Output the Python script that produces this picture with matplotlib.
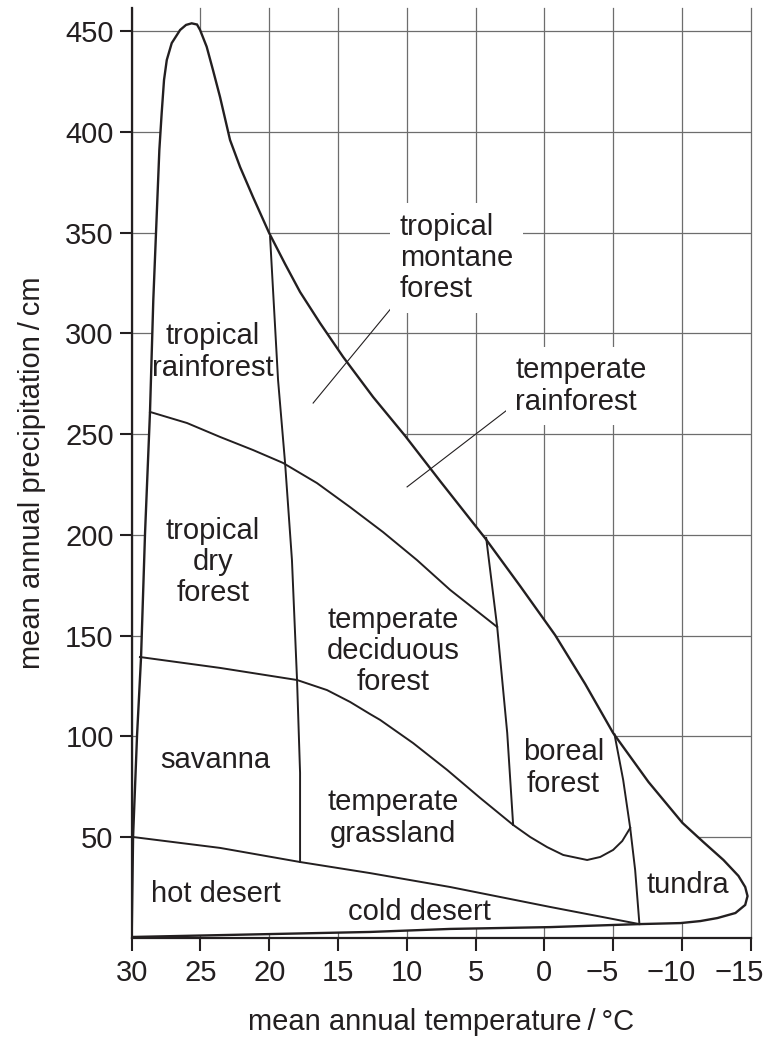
import matplotlib.pyplot as plt
from matplotlib.transforms import ScaledTranslation

plt.rcParams['font.family'] = ['Liberation Sans', 'DejaVu Sans']

# outer boundary of all biomes (mean temperature in C, precipitation in cm)
outer_temp = [30.0, 29.9, 29.61, 29.32, 29.03, 28.67, 28.43, 27.99, 27.82, 27.65,
              27.45, 27.09, 26.48, 26.05, 25.64, 25.25, 25.03, 24.55, 24.09, 23.58,
              22.85, 22.12, 21.18, 20.01, 18.85, 17.76, 16.31, 14.63, 12.45, 10.12,
              7.58, 4.31, 1.76, -0.78, -2.97, -5.0, -7.57, -10.04, -11.56, -13.02,
              -14.11, -14.6, -14.77, -14.6, -13.89, -12.58, -11.34, -9.89, -6.91,
              -0.42, 6.85, 12.67, 30.0]
outer_precip = [0.5, 50.1, 100.7, 139.4, 200.9, 261, 316.5, 391.0, 409.3, 425.7,
                435.6, 444.0, 450.5, 453.0, 453.8, 453.2, 450.5, 442.2, 430.6, 417.3,
                395.9, 382.5, 367.6, 349.8, 334.4, 320.5, 305.1, 288.3, 268.4, 249.1,
                226.7, 198.4, 174.6, 150.3, 126.0, 101.7, 77.4, 57.1, 47.6, 38.7,
                30.8, 25.3, 20.8, 16.4, 12.4, 9.9, 8.4, 7.4, 6.9,
                5.4, 4.5, 3.0, 0.5]

# rainforest / dry forest / deciduous forest boundary
rain_temp = [28.67, 25.98, 23.58, 21.18, 19.0, 16.53, 14.13, 11.73, 9.26, 6.85, 3.43]
rain_precip = [261, 255.5, 248.6, 242.1, 235.7, 225.7, 213.8, 201.4, 187.5, 172.7, 154.3]

# tropical / temperate divide
tropic_temp = [19.94, 19.36, 18.85, 18.35, 17.98, 17.76, 17.76]
tropic_precip = [347.8, 276.8, 235.7, 187.5, 128, 81.9, 37.7]

# savanna and grassland upper boundary
grass_temp = [29.4, 23.58, 17.98, 15.8, 14.12, 12.67, 11.94, 9.54, 7.07, 4.67, 2.27,
              1.03, -0.2, -1.37, -3.11, -4.06, -5.0, -5.66, -6.24]
grass_precip = [139.4, 134.0, 128.0, 123.0, 117.1, 111.1, 108.2, 96.7, 83.4, 69.5, 56.1,
                50.1, 45.1, 41.2, 38.7, 40.2, 43.7, 48.1, 54.6]

# desert upper boundary
desert_temp = [29.9, 23.58, 17.76, 12.67, 6.85, -0.42, -6.91]
desert_precip = [50.1, 44.7, 37.7, 32.2, 25.3, 15.4, 6.9]

# boreal forest west edge
boreal_temp = [4.23, 3.43, 2.7, 2.27]
boreal_precip = [198.5, 154.3, 101.7, 56.1]

# tundra west edge
tundra_temp = [-5.1, -5.73, -6.24, -6.6, -6.91]
tundra_precip = [101.0, 78.4, 54.6, 33.7, 6.9]

# leader lines for the labels outside the region
montane_ptr = ([11.07, 16.81], [313, 265.4])
temprain_ptr = ([2.7, 9.98], [262, 223.8])

labels = ['tropical\nrainforest', 'tropical\ndry\nforest', 'temperate\ndeciduous\nforest',
          'savanna', 'temperate\ngrassland', 'boreal\nforest', 'hot desert',
          'cold desert', 'tundra']
label_temp = [24.1, 24.1, 11.0, 23.9, 11.0, -1.4, 23.9, 9.1, -10.4]
label_precip = [290.7, 186.5, 142.4, 88.3, 59.5, 84.3, 21.8, 12.9, 26.3]

xticks = list(range(30, -16, -5))
yticks = list(range(50, 451, 50))

ink = '#231f20'
fs = 21

fig = plt.figure(figsize=(7.69, 10.37), dpi=100)
ax = fig.add_axes([131.7 / 769, 99 / 1037, 619 / 769, 930 / 1037])

ax.set_xlim(30, -15)
ax.set_ylim(0, 461.4)
ax.set_xticks(xticks)
ax.set_yticks(yticks)
ax.set_axisbelow(True)
ax.grid(True, color='#6d6d6d', lw=0.9)
for line in ax.get_xgridlines():
    line.set_clip_on(False)

for side in ['top', 'right']:
    ax.spines[side].set_visible(False)
for side in ['left', 'bottom']:
    ax.spines[side].set_linewidth(1.6)
    ax.spines[side].set_color(ink)

ax.tick_params(direction='out', length=9, width=1.5, colors=ink, labelsize=fs)
ax.tick_params(axis='y', pad=4)
ax.tick_params(axis='x', pad=6)

# negative labels: keep the digits over the tick, minus sign hangs left
for lab, val in zip(ax.get_xticklabels(), xticks):
    if val < 0:
        lab.set_transform(lab.get_transform() + ScaledTranslation(-8 / 72, 0, fig.dpi_scale_trans))

# white filled region hides the grid inside it
ax.fill(outer_temp, outer_precip, facecolor='white', edgecolor=ink, lw=1.7, zorder=1)

for t, p in [(rain_temp, rain_precip), (tropic_temp, tropic_precip),
             (grass_temp, grass_precip), (desert_temp, desert_precip),
             (boreal_temp, boreal_precip), (tundra_temp, tundra_precip)]:
    ax.plot(t, p, color=ink, lw=1.4, zorder=2)

for t, p in [montane_ptr, temprain_ptr]:
    ax.plot(t, p, color=ink, lw=0.8, zorder=2)

for txt, t, p in zip(labels, label_temp, label_precip):
    ax.text(t, p, txt, ha='center', va='center', fontsize=fs, color=ink,
            linespacing=1.15, zorder=3)

box = dict(facecolor='white', edgecolor='none', pad=7)
ax.text(10.5, 337.4, 'tropical\nmontane\nforest', ha='left', va='center',
        fontsize=fs, color=ink, linespacing=1.15, bbox=box, zorder=3)
ax.text(2.1, 273.9, 'temperate\nrainforest', ha='left', va='center',
        fontsize=fs, color=ink, linespacing=1.15, bbox=box, zorder=3)

ax.set_xlabel('mean annual temperature\u2009/\u2009°C', fontsize=fs, color=ink, labelpad=15)
ax.set_ylabel('mean annual precipitation\u2009/\u2009cm', fontsize=fs, color=ink, labelpad=14)

fig.savefig('out.png', dpi=100)
